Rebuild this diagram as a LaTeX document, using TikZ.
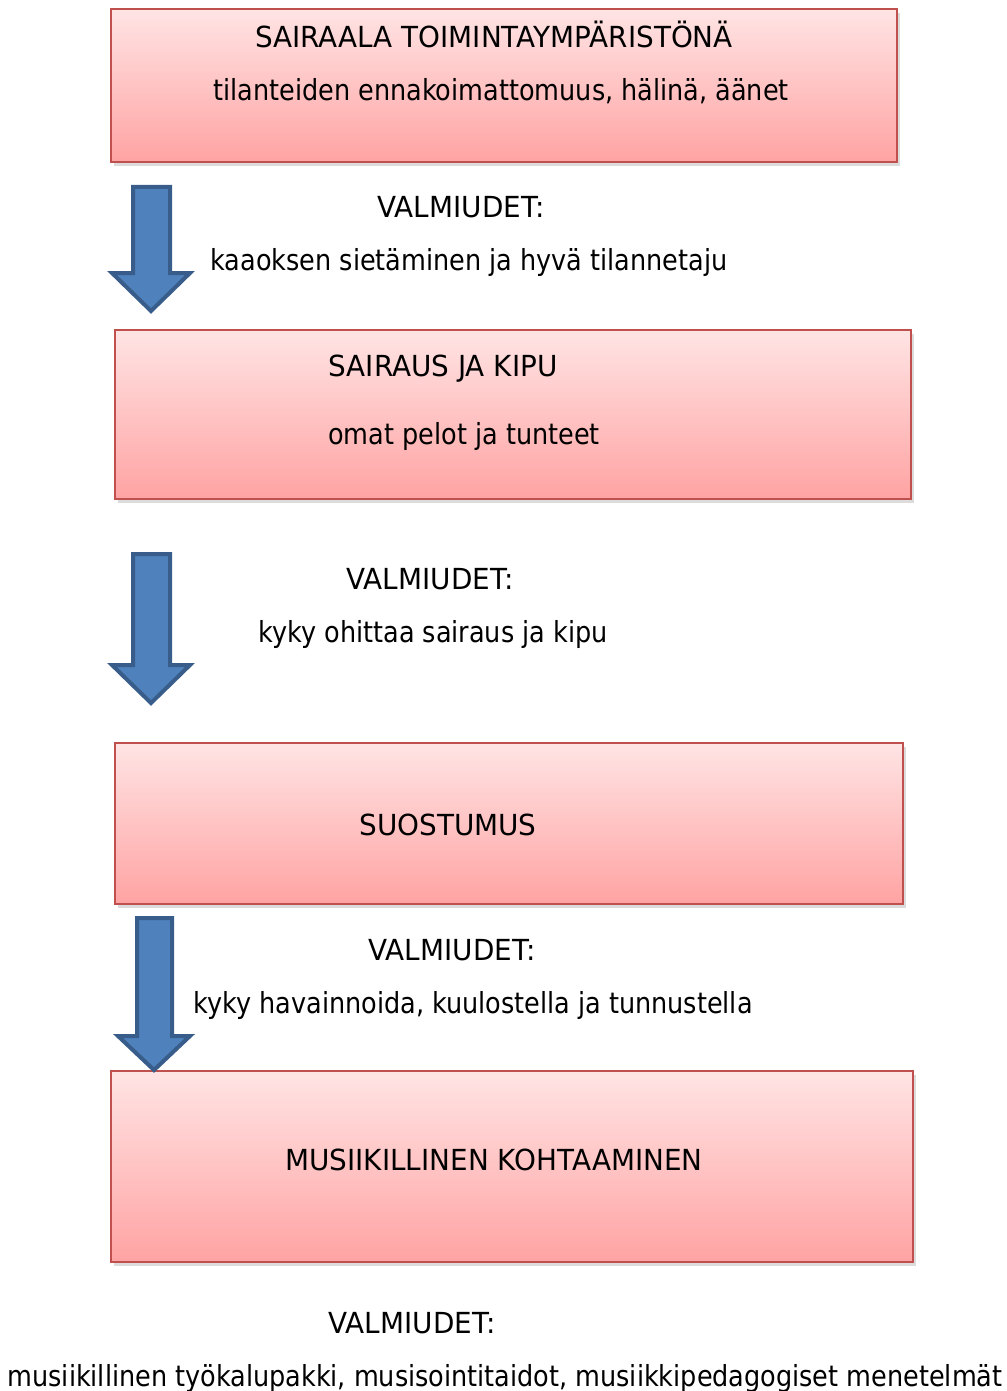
\documentclass[tikz,border=0pt]{standalone}
\usepackage{fontspec}
\setmainfont{DejaVu Sans}
\newfontfamily\capsf[FakeStretch=0.96]{DejaVu Sans}
\newfontfamily\lowf[FakeStretch=0.88]{DejaVu Sans}
\usetikzlibrary{shadows}
\definecolor{boxtop}{RGB}{255,228,228}
\definecolor{boxbot}{RGB}{255,163,163}
\definecolor{boxline}{RGB}{192,80,77}
\definecolor{arrfill}{RGB}{79,129,189}
\definecolor{arrline}{RGB}{56,93,138}
\tikzset{
  stagebox/.style={draw=boxline, line width=2pt, top color=boxtop, bottom color=boxbot,
    drop shadow={shadow xshift=3pt, shadow yshift=-4pt, opacity=0.3, fill=black!45}},
  blockarrow/.style={draw=arrline, line width=4pt, fill=arrfill, line join=miter},
  caplbl/.style={inner sep=0pt, font=\capsf\fontsize{29}{33}\selectfont, anchor=base},
  lowlbl/.style={inner sep=0pt, font=\lowf\fontsize{29}{33}\selectfont, anchor=base}
}
\begin{document}
\begin{tikzpicture}[x=1pt,y=-1pt]
\useasboundingbox (0,0) rectangle (1006,1391);
% boxes
\draw[stagebox] (111,9) rectangle (897,162);
\draw[stagebox] (115,330) rectangle (911,499);
\draw[stagebox] (115,743) rectangle (903,904);
\draw[stagebox] (111,1071) rectangle (913,1262);
% arrows
\draw[blockarrow] (133,187) -- (170,187) -- (170,273) -- (190,273) -- (151,311) -- (112,273) -- (133,273) -- cycle;
\draw[blockarrow] (133,554) -- (170,554) -- (170,665) -- (190,665) -- (151,703) -- (112,665) -- (133,665) -- cycle;
\draw[blockarrow] (137,918) -- (172,918) -- (172,1036) -- (190,1036) -- (154,1070) -- (118,1036) -- (137,1036) -- cycle;
% texts
\node[caplbl] (t1a) at (494,48) {SAIRAALA TOIMINTAYMPÄRISTÖNÄ};
\node[lowlbl] (t1b) at (501,101) {tilanteiden ennakoimattomuus, hälinä, äänet};
\node[caplbl] (v1) at (461,217) {VALMIUDET:};
\node[lowlbl] (v1b) at (469,270) {kaaoksen sietäminen ja hyvä tilannetaju};
\node[caplbl] (t2a) at (443,376) {SAIRAUS JA KIPU};
\node[lowlbl] (t2b) at (464,444) {omat pelot ja tunteet};
\node[caplbl] (v2) at (430,589) {VALMIUDET:};
\node[lowlbl] (v2b) at (433,642) {kyky ohittaa sairaus ja kipu};
\node[caplbl] (t3) at (448,835) {SUOSTUMUS};
\node[caplbl] (v3) at (452,960) {VALMIUDET:};
\node[lowlbl] (v3b) at (473,1013) {kyky havainnoida, kuulostella ja tunnustella};
\node[caplbl] (t4) at (494,1170) {MUSIIKILLINEN KOHTAAMINEN};
\node[caplbl] (v4) at (412,1333) {VALMIUDET:};
\node[lowlbl] (v4b) at (505,1386) {musiikillinen työkalupakki, musisointitaidot, musiikkipedagogiset menetelmät};
\end{tikzpicture}
\end{document}
